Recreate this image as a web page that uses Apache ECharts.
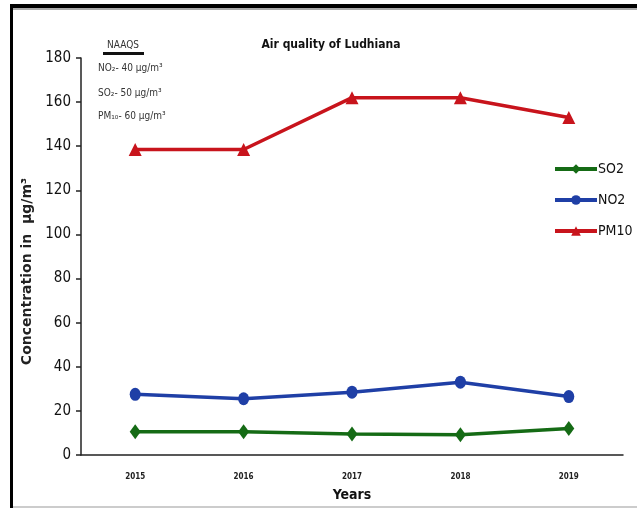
<!DOCTYPE html>
<html>
<head>
<meta charset="utf-8">
<script src="https://cdn.jsdelivr.net/npm/echarts@6/dist/echarts.min.js"></script>
<style>
  html, body { margin: 0; padding: 0; background: #fff; }
  #main { width: 637px; height: 508px; }
</style>
</head>
<body>
<div id="main"></div>
<script>
// data
var years = ['2015', '2016', '2017', '2018', '2019']
var so2 = [10.5, 10.5, 9.5, 9.2, 12]
var no2 = [27.5, 25.5, 28.5, 33, 26.5]
var pm10 = [138.5, 138.5, 162, 162, 153]
var naaqs = ['NO₂- 40 µg/m³', 'SO₂- 50 µg/m³', 'PM₁₀- 60 µg/m³']

var font = "'DejaVu Sans Condensed', 'Liberation Sans', sans-serif"
var chart = echarts.init(document.getElementById('main'))

function lineSeries(name, data, color, symbol, size) {
  return {
    name: name,
    type: 'line',
    data: data,
    symbol: symbol,
    symbolSize: size,
    lineStyle: { color: color, width: 3.5 },
    itemStyle: { color: color },
    animation: false
  }
}

var option = {
  backgroundColor: '#fff',
  title: {
    text: 'Air quality of Ludhiana',
    left: 326,
    top: 34,
    textAlign: 'center',
    textStyle: { fontFamily: font, fontSize: 12, fontWeight: 'bold', color: '#111' }
  },
  legend: {
    orient: 'vertical',
    left: 548,
    top: 157,
    itemWidth: 42,
    itemHeight: 12,
    itemGap: 17,
    data: ['SO2', 'NO2', 'PM10'],
    lineStyle: { width: 4 },
    textStyle: { fontFamily: font, fontSize: 14, color: '#111', padding: [0, 0, 0, -4] }
  },
  grid: { left: 81, right: 14, top: 58, bottom: 53, containLabel: false },
  xAxis: {
    type: 'category',
    data: years,
    boundaryGap: true,
    name: 'Years',
    nameLocation: 'middle',
    nameGap: 33,
    nameTextStyle: { fontFamily: font, fontSize: 14, fontWeight: 'bold', color: '#111' },
    axisLine: { lineStyle: { color: '#222', width: 1.5 } },
    axisTick: { length: 5, lineStyle: { color: '#222', width: 1.5 } },
    axisLabel: { fontFamily: font, fontSize: 8, fontWeight: 'bold', color: '#222', margin: 18 }
  },
  yAxis: {
    type: 'value',
    min: 0,
    max: 180,
    interval: 20,
    name: 'Concentration in  µg/m³',
    nameLocation: 'middle',
    nameRotate: 90,
    nameGap: 45,
    nameTextStyle: { fontFamily: 'DejaVu Sans', fontSize: 14, fontWeight: 'bold', color: '#222', padding: [0, 30, 0, 0] },
    axisLine: { show: true, lineStyle: { color: '#222', width: 1.5 } },
    axisTick: { show: true, length: 5, lineStyle: { color: '#222', width: 1.5 } },
    splitLine: { show: false },
    axisLabel: { fontFamily: font, fontSize: 15, color: '#111', margin: 10 }
  },
  series: [
    lineSeries('SO2', so2, '#156b15', 'diamond', [11, 15]),
    lineSeries('NO2', no2, '#1f3fa6', 'circle', [11, 13]),
    lineSeries('PM10', pm10, '#c8141c', 'triangle', 13)
  ],
  graphic: [
    // outer frame pieces
    { type: 'rect', shape: { x: 10, y: 4, width: 627, height: 4 }, style: { fill: '#000' } },
    { type: 'rect', shape: { x: 10, y: 8, width: 627, height: 2 }, style: { fill: '#aaa' } },
    { type: 'rect', shape: { x: 10, y: 4, width: 3, height: 504 }, style: { fill: '#000' } },
    { type: 'rect', shape: { x: 13, y: 506, width: 624, height: 2 }, style: { fill: '#ccc' } },
    // NAAQS note
    { type: 'text', left: 107, top: 40, style: { text: 'NAAQS', fontFamily: font, fontSize: 10, fill: '#333' } },
    { type: 'rect', shape: { x: 103, y: 52, width: 41, height: 3 }, style: { fill: '#111' } },
    { type: 'text', left: 98, top: 63, style: { text: naaqs[0], fontFamily: font, fontSize: 10, fill: '#333' } },
    { type: 'text', left: 98, top: 88, style: { text: naaqs[1], fontFamily: font, fontSize: 10, fill: '#333' } },
    { type: 'text', left: 98, top: 111, style: { text: naaqs[2], fontFamily: font, fontSize: 10, fill: '#333' } }
  ]
}
chart.setOption(option)
</script>
</body>
</html>
